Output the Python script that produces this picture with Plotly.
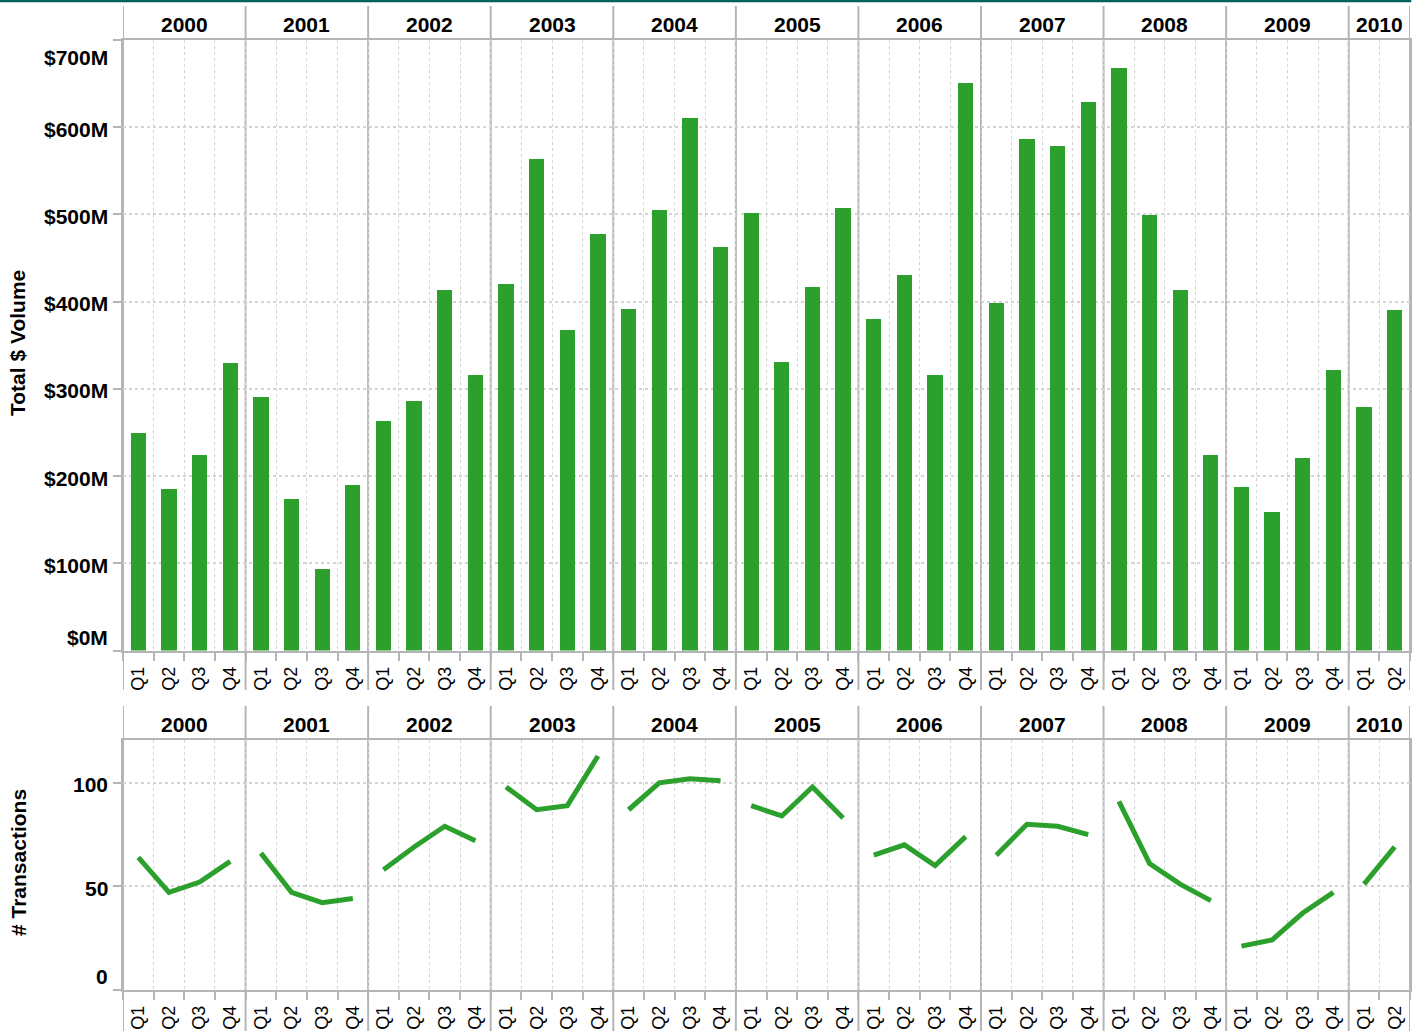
import plotly.graph_objects as go

years = ["2000", "2001", "2002", "2003", "2004", "2005", "2006", "2007", "2008", "2009", "2010"]
quarters_per_year = [4, 4, 4, 4, 4, 4, 4, 4, 4, 4, 2]
quarter_names = ["Q1", "Q2", "Q3", "Q4"]

# Total $ Volume in $M
volume = [
    249, 185, 224, 330,
    291, 174, 94, 190,
    263, 286, 413, 316,
    420, 563, 368, 477,
    392, 505, 611, 463,
    502, 331, 417, 507,
    380, 431, 316, 651,
    398, 586, 578, 629,
    668, 499, 413, 224,
    187, 159, 221, 322,
    279, 390,
]

# Number of transactions
transactions = [
    64, 47, 52, 62,
    66, 47, 42, 44,
    58, 69, 79, 72,
    98, 87, 89, 113,
    87, 100, 102, 101,
    89, 84, 98, 83,
    65, 70, 60, 74,
    65, 80, 79, 75,
    91, 61, 51, 43,
    21, 24, 37, 47,
    51, 69,
]

vol_ticks = [0, 100, 200, 300, 400, 500, 600, 700]
vol_labels = ["$0M", "$100M", "$200M", "$300M", "$400M", "$500M", "$600M", "$700M"]
tr_ticks = [0, 50, 100]
tr_labels = ["0", "50", "100"]

GREEN = "#2ca02c"
DIV = "#b5b5b5"
GRID = "#d4d4d4"
FONT = "Liberation Sans, Arial, sans-serif"

W, H = 1421, 1032
L, R = 123, 11


def py(p):
    return 1 - p / H


# build positions
xs, qlabels, year_starts = [], [], []
idx = 0
for y, n in zip(years, quarters_per_year):
    year_starts.append(idx)
    for q in range(n):
        xs.append(idx + 0.5)
        qlabels.append(quarter_names[q])
        idx += 1
total_q = idx
bounds = year_starts + [total_q]

fig = go.Figure()
fig.add_trace(go.Bar(x=xs, y=volume, width=0.5, marker=dict(color=GREEN, line=dict(width=0)),
                     xaxis="x", yaxis="y", showlegend=False))

# line per year, gaps between years
lx, ly = [], []
k = 0
for n in quarters_per_year:
    for q in range(n):
        lx.append(xs[k]); ly.append(transactions[k]); k += 1
    lx.append(None); ly.append(None)
fig.add_trace(go.Scatter(x=lx, y=ly, mode="lines", line=dict(color=GREEN, width=5),
                         connectgaps=False, xaxis="x2", yaxis="y2", showlegend=False))

top_dom = [py(650.5), py(40)]
bot_dom = [py(989.5), py(739.5)]

xcommon = dict(range=[0, total_q], tickmode="array", tickvals=xs, ticktext=qlabels,
               tickangle=-90, ticks="", showgrid=False, zeroline=False, ticklabelstandoff=7,
               showline=True, linecolor=DIV, linewidth=2, mirror=True,
               tickfont=dict(family=FONT, size=18, color="#000"),
               minor=dict(tickmode="array", tickvals=list(range(0, total_q + 1)), ticks="outside",
                          ticklen=8, tickcolor=DIV, tickwidth=1.5, showgrid=True,
                          gridcolor=GRID, griddash="dot", gridwidth=1))
ycommon = dict(showticklabels=False, ticks="outside", ticklen=8, tickcolor=DIV, tickwidth=1.5,
               showgrid=True, gridcolor=GRID, griddash="dot", gridwidth=1.5, zeroline=False,
               showline=True, linecolor=DIV, linewidth=2, mirror=True, tickmode="array")

fig.update_layout(
    width=W, height=H, margin=dict(l=L, r=R, t=0, b=0), plot_bgcolor="white", paper_bgcolor="white",
    xaxis=dict(domain=[0, 1], anchor="y", **xcommon),
    yaxis=dict(domain=top_dom, range=[0, 700], tickvals=vol_ticks, anchor="x", **ycommon),
    xaxis2=dict(domain=[0, 1], anchor="y2", **xcommon),
    yaxis2=dict(domain=bot_dom, range=[0, 121], tickvals=tr_ticks, anchor="x2", **ycommon),
    bargap=0,
)

shapes = []
# year dividers
for b in bounds:
    shapes.append(dict(type="line", xref="x", yref="paper", x0=b, x1=b, y0=py(690), y1=py(6),
                       line=dict(color=DIV, width=2), layer="below"))
    shapes.append(dict(type="line", xref="x2", yref="paper", x0=b, x1=b, y0=py(1031), y1=py(706),
                       line=dict(color=DIV, width=2), layer="below"))
# teal top rule
shapes.append(dict(type="line", xref="paper", yref="paper", x0=-L / (W - L - R), x1=1.001,
                   y0=py(1), y1=py(1), line=dict(color="#00605a", width=2.5)))
fig.update_layout(shapes=shapes)

ann = []
for y, s, n in zip(years, year_starts, quarters_per_year):
    for xr, yc in (("x", 24), ("x2", 724)):
        ann.append(dict(text=y, xref=xr, yref="paper", x=s + n / 2, y=py(yc), showarrow=False,
                        xanchor="center", yanchor="middle",
                        font=dict(family=FONT, size=21, color="#000", weight="bold")))


def add_ticks(vals, labels, yref, top):
    for i, (v, t) in enumerate(zip(vals, labels)):
        if v == 0:
            ya, ys = "bottom", 0
        elif v == top:
            ya, ys = "top", -4
        else:
            ya, ys = "middle", -2
        ann.append(dict(text=t, xref="paper", yref=yref, x=0, y=v, xanchor="right", yanchor=ya,
                        xshift=-13, yshift=ys, showarrow=False,
                        font=dict(family=FONT, size=21, color="#000", weight="bold")))


add_ticks(vol_ticks, vol_labels, "y", 700)
add_ticks(tr_ticks, tr_labels, "y2", 121)

ann.append(dict(text="Total $ Volume", xref="paper", yref="paper", x=(18 - L) / (W - L - R), y=py(343),
                textangle=-90, showarrow=False, xanchor="center", yanchor="middle",
                font=dict(family=FONT, size=21, color="#000", weight="bold")))
ann.append(dict(text="# Transactions", xref="paper", yref="paper", x=(18 - L) / (W - L - R), y=py(863),
                textangle=-90, showarrow=False, xanchor="center", yanchor="middle",
                font=dict(family=FONT, size=21, color="#000", weight="bold")))
fig.update_layout(annotations=ann)

fig.write_html("out.html", config={"displayModeBar": False},
               post_script="document.body.style.margin='0';document.body.style.overflow='hidden';")
